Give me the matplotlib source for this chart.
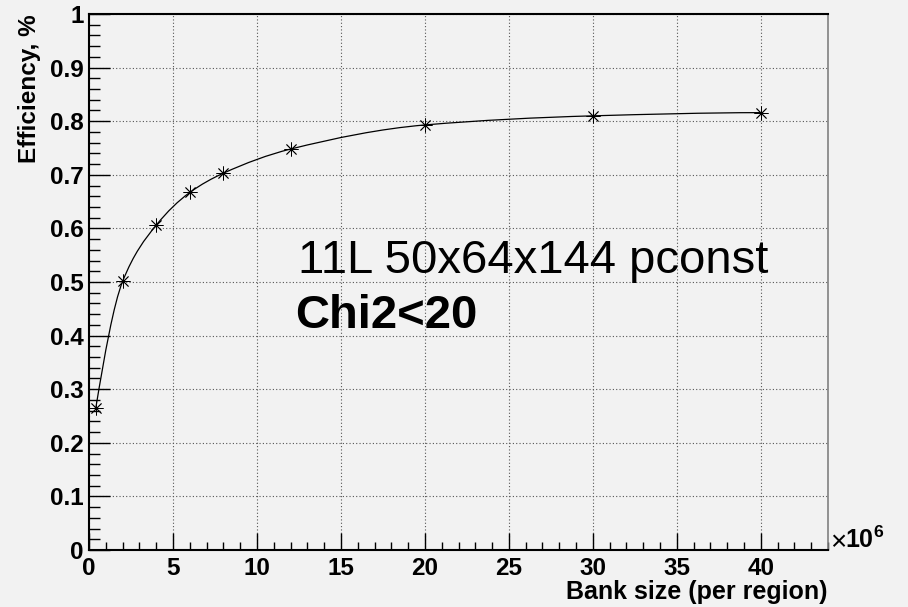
import numpy as np
import matplotlib
matplotlib.use('Agg')
import matplotlib.pyplot as plt
from matplotlib.path import Path
from matplotlib.patches import PathPatch
from matplotlib.ticker import MultipleLocator

plt.rcParams['font.family'] = ['Liberation Sans', 'DejaVu Sans']
plt.rcParams['mathtext.fontset'] = 'custom'
plt.rcParams['mathtext.rm'] = 'Liberation Sans'
plt.rcParams['mathtext.bf'] = 'Liberation Sans:bold'

# data (bank size in 1e6, efficiency)
bank_size = [0.4, 2, 4, 6, 8, 12, 20, 30, 40]
efficiency = [0.264, 0.501, 0.606, 0.667, 0.703, 0.748, 0.793, 0.810, 0.816]

bg = '#f2f2f2'


def smooth_path(x, y):
    # monotone cubic bezier through the points (like ROOT "C" option)
    x = np.asarray(x, float)
    y = np.asarray(y, float)
    h = np.diff(x)
    d = np.diff(y) / h
    m = np.zeros_like(x)
    # three point end slopes
    m[0] = ((2 * h[0] + h[1]) * d[0] - h[0] * d[1]) / (h[0] + h[1])
    m[-1] = ((2 * h[-1] + h[-2]) * d[-1] - h[-1] * d[-2]) / (h[-1] + h[-2])
    if m[-1] < 0:
        m[-1] = 0
    for i in range(1, len(x) - 1):
        if d[i - 1] * d[i] <= 0:
            m[i] = 0
        else:
            w1 = 2 * h[i] + h[i - 1]
            w2 = h[i] + 2 * h[i - 1]
            m[i] = (w1 + w2) / (w1 / d[i - 1] + w2 / d[i])
    verts = [(x[0], y[0])]
    codes = [Path.MOVETO]
    for i in range(len(x) - 1):
        verts += [(x[i] + h[i] / 3, y[i] + m[i] * h[i] / 3),
                  (x[i + 1] - h[i] / 3, y[i + 1] - m[i + 1] * h[i] / 3),
                  (x[i + 1], y[i + 1])]
        codes += [Path.CURVE4] * 3
    return Path(verts, codes)


fig = plt.figure(figsize=(9.08, 6.07), dpi=100, facecolor=bg)
ax = fig.add_axes([89 / 908, 57 / 607, 739 / 908, 536 / 607])
ax.set_facecolor(bg)

ax.add_patch(PathPatch(smooth_path(bank_size, efficiency), fill=False,
                       edgecolor='black', linewidth=0.9, zorder=3))
ax.plot(bank_size, efficiency, linestyle='none', marker=(8, 2, 0),
        markersize=10, color='black', markeredgewidth=0.6, zorder=4)

ax.set_xlim(0, 44)
ax.set_ylim(0, 1)
ax.xaxis.set_major_locator(MultipleLocator(5))
ax.xaxis.set_minor_locator(MultipleLocator(1))
ax.yaxis.set_major_locator(MultipleLocator(0.1))
ax.yaxis.set_minor_locator(MultipleLocator(0.02))
ax.set_yticks(np.arange(0, 1.01, 0.1))
ax.set_yticklabels(['0', '0.1', '0.2', '0.3', '0.4', '0.5', '0.6', '0.7', '0.8', '0.9', '1'])

ax.grid(True, which='major', color='#555555', linestyle=(0, (1, 2)), linewidth=0.8)
ax.set_axisbelow(True)

ax.tick_params(axis='both', which='both', direction='in', color='black', width=1)
ax.tick_params(axis='y', which='major', length=15, pad=4, labelsize=17.5)
ax.tick_params(axis='y', which='minor', length=8)
ax.tick_params(axis='x', which='major', length=12, pad=5, labelsize=17.5)
ax.tick_params(axis='x', which='minor', length=6)
for lab in ax.get_xticklabels() + ax.get_yticklabels():
    lab.set_fontweight('bold')

for s in ['left', 'bottom', 'top']:
    ax.spines[s].set_color('black')
    ax.spines[s].set_linewidth(1.5)
ax.spines['right'].set_color('#808080')
ax.spines['right'].set_linewidth(1.2)

fig.text(30 / 908, 1 - 14 / 607, 'Efficiency, %', rotation=90, ha='center', va='top',
         fontsize=17.5, fontweight='bold')
fig.text(828 / 908, 1 - 592 / 607, 'Bank size (per region)', ha='right', va='center',
         fontsize=18, fontweight='bold')
# exponent label of x axis
fig.text(830 / 908, 1 - 543 / 607, '\u00d7', ha='left', va='center', fontsize=20)
fig.text(845 / 908, 1 - 540 / 607, r'$\mathbf{10^{6}}$', ha='left', va='center',
         fontsize=18)

ax.text(12.45, 0.517, '11L 50x64x144 pconst', fontsize=34, va='baseline', ha='left')
ax.text(12.3, 0.414, 'Chi2<20', fontsize=34, fontweight='bold', va='baseline', ha='left')

fig.savefig('out.png', dpi=100, facecolor=bg)
